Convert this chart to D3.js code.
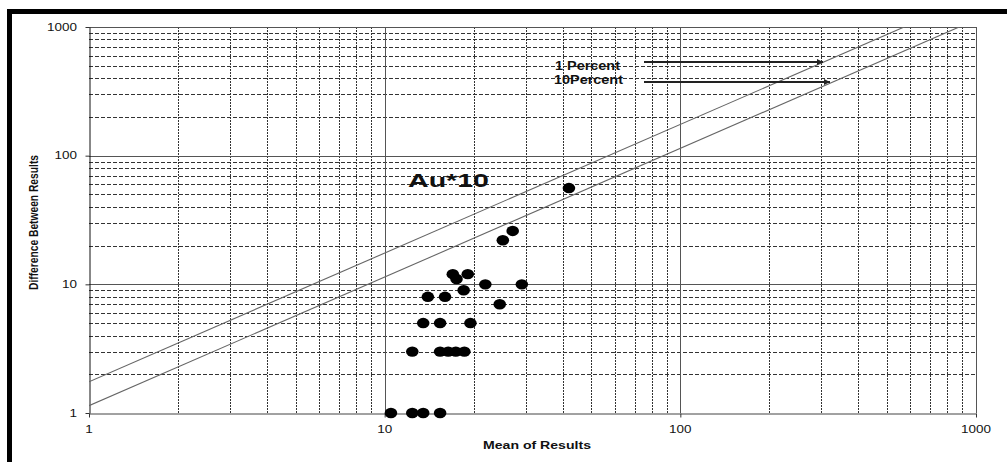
<!DOCTYPE html>
<html>
<head>
<meta charset="utf-8">
<script src="https://cdn.jsdelivr.net/npm/d3@7"></script>
<style>
  html, body { margin: 0; padding: 0; background: #fff; }
  svg { display: block; font-family: "Liberation Sans", Arial, sans-serif; }
</style>
</head>
<body>
<svg id="chart" width="1007" height="462"></svg>
<script>
// ---- data ----
const meanOfResults = [10.5, 12.4, 13.5, 15.4,
  12.4, 15.4, 16.4, 17.4, 18.6,
  13.5, 15.4, 19.5,
  14.0, 16.0, 24.5, 18.5, 21.9, 29.1,
  17.0, 17.5, 19.1, 25.1, 27.1, 42.0];
const differenceBetweenResults = [1, 1, 1, 1,
  3, 3, 3, 3, 3,
  5, 5, 5,
  8, 8, 7, 9, 10, 10,
  12, 11, 12, 22, 26, 56];
const lineLabels = ["1 Percent", "10Percent"];
const lineRatios = [1.75, 1.14];
const majorTicks = [1, 10, 100, 1000];
const tickLabels = ["1", "10", "100", "1000"];
const chartLabel = "Au*10";
const xTitle = "Mean of Results";
const yTitle = "Difference Between Results";

// ---- layout ----
const L = 89, R = 976, T = 27, B = 413;
const svg = d3.select("#chart");
const x = d3.scaleLog().domain([1, 1000]).range([L, R]);
const y = d3.scaleLog().domain([1, 1000]).range([B, T]);

// frame bars
svg.append("rect").attr("x", 7).attr("y", 9).attr("width", 1000).attr("height", 5).attr("fill", "#000");
svg.append("rect").attr("x", 7).attr("y", 9).attr("width", 5).attr("height", 453).attr("fill", "#000");

// minor values
const minors = [];
[1, 10, 100].forEach(d => { for (let k = 2; k <= 9; k++) minors.push(d * k); });

const grid = svg.append("g");
grid.selectAll(".hm").data(minors).join("line")
  .attr("x1", L).attr("x2", R)
  .attr("y1", d => Math.round(y(d)) + 0.5).attr("y2", d => Math.round(y(d)) + 0.5)
  .attr("stroke", "#333").attr("stroke-width", 1).attr("stroke-dasharray", "4,2");
grid.selectAll(".vm").data(minors).join("line")
  .attr("y1", T).attr("y2", B)
  .attr("x1", d => Math.round(x(d)) + 0.5).attr("x2", d => Math.round(x(d)) + 0.5)
  .attr("stroke", "#333").attr("stroke-width", 1).attr("stroke-dasharray", "2,1");
grid.selectAll(".hM").data([10, 100, 1000]).join("line")
  .attr("x1", L).attr("x2", R)
  .attr("y1", d => Math.round(y(d)) + 0.5).attr("y2", d => Math.round(y(d)) + 0.5)
  .attr("stroke", "#555").attr("stroke-width", 1);
grid.selectAll(".vM").data([10, 100, 1000]).join("line")
  .attr("y1", T).attr("y2", B)
  .attr("x1", d => Math.round(x(d)) + 0.5).attr("x2", d => Math.round(x(d)) + 0.5)
  .attr("stroke", "#555").attr("stroke-width", 1);

// axes
const xAxis = d3.axisBottom(x).tickValues(majorTicks).tickFormat("").tickSize(4).tickSizeOuter(0);
const yAxis = d3.axisLeft(y).tickValues(majorTicks).tickFormat("").tickSize(4).tickSizeOuter(0);
const gx = svg.append("g").attr("transform", `translate(0,${B + 0.5})`).call(xAxis);
const gy = svg.append("g").attr("transform", `translate(${L + 0.5},0)`).call(yAxis);
gx.select(".domain").attr("stroke", "#444");
gy.select(".domain").attr("stroke", "#111");
gx.selectAll(".tick line").attr("stroke", "#333");
gy.selectAll(".tick line").attr("stroke", "#333");

function stretchedText(parent, px, py, str, size, weight, anchor, sx, fill) {
  const g = parent.append("g").attr("transform", `translate(${px},${py}) scale(${sx},1)`);
  return g.append("text").attr("text-anchor", anchor).attr("font-size", size)
    .attr("font-weight", weight).attr("fill", fill || "#000").text(str);
}

// tick labels
majorTicks.forEach((v, i) => {
  stretchedText(svg, 77, y(v) + 3.6, tickLabels[i], 10, "normal", "end", 1.35, "#111");
  stretchedText(svg, x(v), 432.5, tickLabels[i], 10, "normal", "middle", 1.35, "#111");
});

// ratio lines
svg.append("clipPath").attr("id", "plotclip").append("rect")
  .attr("x", L).attr("y", T).attr("width", R - L).attr("height", B - T);
const lineGen = d3.line().x(d => x(d[0])).y(d => y(d[1]));
svg.append("g").attr("clip-path", "url(#plotclip)")
  .selectAll("path").data(lineRatios).join("path")
  .attr("d", r => lineGen([[1, r], [1000, 1000 * r]]))
  .attr("fill", "none").attr("stroke", "#666").attr("stroke-width", 1.1);

// points
svg.append("g").selectAll("ellipse").data(meanOfResults).join("ellipse")
  .attr("cx", (d, i) => x(d))
  .attr("cy", (d, i) => y(differenceBetweenResults[i]))
  .attr("rx", 6.3).attr("ry", 5.2).attr("fill", "#000");

// arrow labels
const defs = svg.append("defs");
defs.append("marker").attr("id", "arr").attr("viewBox", "0 0 10 10")
  .attr("refX", 10).attr("refY", 5).attr("markerWidth", 9).attr("markerHeight", 6)
  .attr("markerUnits", "userSpaceOnUse").attr("orient", "auto")
  .append("path").attr("d", "M0,0 L10,5 L0,10 Z").attr("fill", "#222");
const arrowY = [62, 82];
const arrowEnd = [823, 830];
const labelWidths = [65, 69];
lineLabels.forEach((lab, i) => {
  svg.append("line").attr("x1", 644).attr("x2", arrowEnd[i])
    .attr("y1", arrowY[i]).attr("y2", arrowY[i])
    .attr("stroke", "#222").attr("stroke-width", 1.8).attr("marker-end", "url(#arr)");
  svg.append("text").attr("x", 620 - labelWidths[i] + (i ? 3 : 0)).attr("y", [69.5, 83.5][i])
    .attr("font-size", 12).attr("font-weight", "bold").attr("fill", "#111")
    .attr("textLength", labelWidths[i]).attr("lengthAdjust", "spacingAndGlyphs").text(lab);
});

// Au*10
svg.append("text").attr("x", 408).attr("y", 187).attr("font-size", 19).attr("font-weight", "bold")
  .attr("fill", "#111").attr("textLength", 81).attr("lengthAdjust", "spacingAndGlyphs").text(chartLabel);

// axis titles
svg.append("text").attr("x", 483).attr("y", 449).attr("font-size", 11).attr("font-weight", "bold")
  .attr("fill", "#111").attr("textLength", 108).attr("lengthAdjust", "spacingAndGlyphs").text(xTitle);
svg.append("g").attr("transform", "translate(38,222.5) scale(1.3,1) rotate(-90)")
  .append("text").attr("text-anchor", "middle").attr("font-size", 10).attr("font-weight", "bold")
  .attr("fill", "#111").attr("textLength", 135).attr("lengthAdjust", "spacingAndGlyphs").text(yTitle);
</script>
</body>
</html>
